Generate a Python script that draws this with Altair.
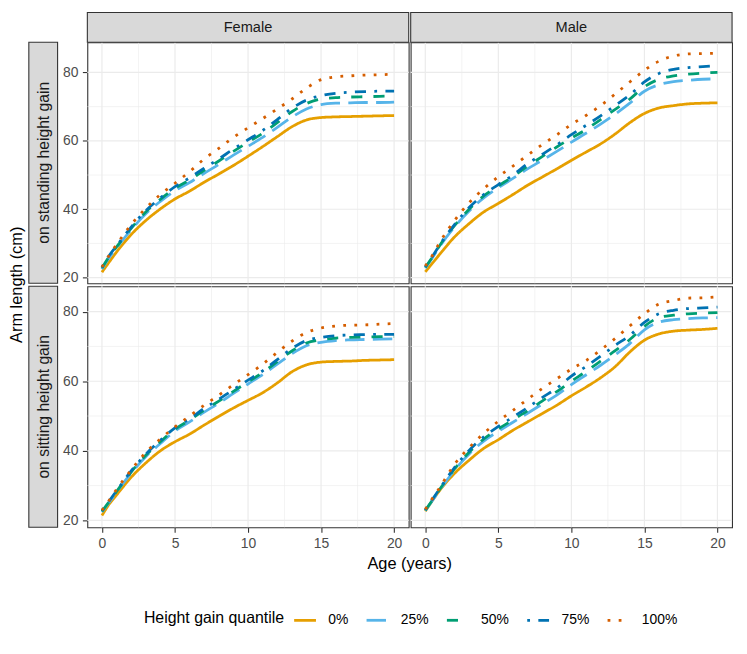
import altair as alt
import pandas as pd

# ---------------- data ----------------
ages = [0, 0.5, 1, 2, 3, 4, 5, 6, 7, 8, 9, 10, 11, 12, 13, 14, 15, 16, 17, 18, 19, 20]
quantiles = ["0%", "25%", "50%", "75%", "100%"]
sexes = ["Female", "Male"]
bases = ["on standing height gain", "on sitting height gain"]

# Female, on standing height gain
fs0 = [21.6, 24.6, 27.5, 32.6, 36.7, 40.1, 43.0, 45.3, 47.9, 50.3, 52.8, 55.5, 58.3, 61.2, 64.1, 66.1, 66.8, 67.0, 67.1, 67.2, 67.3, 67.4]
fs25 = [22.5, 25.9, 28.7, 34.0, 38.7, 42.3, 45.4, 47.8, 50.5, 53.1, 55.8, 58.4, 61.0, 63.9, 66.9, 69.3, 70.6, 71.0, 71.1, 71.2, 71.2, 71.3]
fs50 = [22.8, 26.2, 29.0, 34.4, 39.2, 42.9, 46.1, 48.6, 51.4, 54.1, 56.9, 59.6, 62.2, 65.3, 68.5, 70.9, 72.2, 72.6, 72.8, 72.9, 73.0, 73.1]
fs75 = [23.0, 26.5, 29.3, 34.8, 39.6, 43.3, 46.6, 49.2, 52.0, 54.7, 57.6, 60.3, 63.0, 66.2, 69.5, 71.9, 73.2, 73.9, 74.2, 74.4, 74.5, 74.5]
fs100 = [23.1, 26.6, 29.7, 35.5, 40.3, 44.3, 47.6, 51.0, 54.7, 57.8, 61.0, 63.8, 66.5, 69.3, 72.2, 75.4, 77.9, 78.7, 79.0, 79.2, 79.3, 79.5]

# Male, on standing height gain
ms0 = [21.7, 24.3, 26.9, 31.9, 35.8, 39.2, 41.7, 44.3, 47.0, 49.4, 51.8, 54.3, 56.7, 59.1, 62.0, 65.3, 68.0, 69.6, 70.3, 70.8, 71.0, 71.1]
ms25 = [22.8, 25.9, 29.2, 34.8, 39.5, 43.3, 46.3, 49.0, 51.8, 54.3, 56.9, 59.6, 62.2, 64.9, 67.8, 71.0, 74.5, 76.4, 77.3, 77.7, 78.0, 78.1]
ms50 = [23.0, 26.1, 29.5, 35.2, 40.0, 43.9, 46.8, 49.6, 52.6, 55.4, 58.2, 60.8, 63.3, 66.2, 69.2, 72.2, 75.8, 78.0, 79.0, 79.5, 79.8, 80.0]
ms75 = [23.2, 26.3, 29.7, 35.5, 40.5, 44.3, 47.2, 50.0, 53.3, 56.0, 58.8, 61.8, 64.5, 67.3, 70.3, 73.4, 77.2, 79.7, 80.9, 81.4, 81.7, 82.0]
ms100 = [23.4, 26.6, 30.4, 36.7, 41.9, 46.0, 49.5, 52.6, 55.8, 58.9, 61.7, 64.8, 67.4, 70.3, 73.7, 77.2, 80.6, 83.3, 84.8, 85.4, 85.5, 85.6]

# Female, on sitting height gain
fi0 = [21.4, 24.7, 27.3, 32.4, 36.5, 40.0, 42.6, 44.8, 47.4, 49.9, 52.3, 54.5, 56.7, 59.5, 62.7, 64.7, 65.5, 65.7, 65.8, 66.0, 66.1, 66.2]
fi25 = [22.4, 25.2, 28.1, 33.6, 38.3, 42.1, 45.7, 48.3, 51.1, 53.7, 56.5, 59.2, 61.9, 64.9, 67.9, 70.2, 71.2, 71.7, 71.9, 72.0, 72.1, 72.2]
fi50 = [22.6, 25.4, 28.3, 33.9, 38.7, 42.6, 46.2, 48.8, 51.7, 54.3, 57.1, 59.8, 62.5, 65.6, 68.7, 71.0, 71.9, 72.4, 72.6, 72.7, 72.8, 72.8]
fi75 = [22.8, 25.6, 28.5, 34.2, 39.0, 43.0, 46.6, 49.2, 52.2, 54.8, 57.6, 60.3, 63.0, 66.2, 69.4, 71.7, 72.6, 73.1, 73.3, 73.4, 73.5, 73.5]
fi100 = [22.9, 25.8, 28.9, 34.5, 39.5, 43.4, 46.9, 50.0, 53.1, 56.0, 59.0, 61.9, 64.9, 68.3, 71.5, 74.0, 75.3, 75.9, 76.1, 76.2, 76.4, 76.6]

# Male, on sitting height gain
mi0 = [22.6, 25.8, 28.7, 33.5, 37.3, 40.7, 43.2, 45.9, 48.3, 50.7, 53.1, 55.8, 58.3, 61.0, 64.2, 68.4, 71.8, 73.6, 74.4, 74.7, 74.9, 75.2]
mi25 = [22.8, 25.8, 28.8, 34.4, 39.1, 42.8, 45.6, 48.2, 50.8, 53.4, 56.0, 59.0, 61.8, 64.6, 67.6, 70.8, 74.8, 77.0, 77.7, 78.0, 78.2, 78.3]
mi50 = [22.9, 25.9, 29.0, 34.8, 39.6, 43.4, 46.3, 48.9, 51.5, 54.3, 57.0, 60.0, 62.8, 65.8, 68.8, 72.0, 75.8, 78.3, 79.0, 79.4, 79.6, 79.7]
mi75 = [23.0, 26.1, 29.2, 35.2, 40.1, 44.0, 47.0, 49.7, 52.4, 55.3, 58.0, 61.5, 64.2, 67.2, 70.3, 73.2, 76.9, 79.4, 80.4, 80.9, 81.1, 81.3]
mi100 = [23.2, 26.4, 29.5, 36.1, 40.9, 45.0, 48.5, 51.6, 54.8, 57.9, 60.7, 63.5, 65.9, 69.0, 72.3, 75.9, 79.4, 82.2, 83.2, 83.9, 84.0, 84.3]

x_major = [0, 5, 10, 15, 20]
x_minor = [2.5, 7.5, 12.5, 17.5]
y_major = [20, 40, 60, 80]
y_minor = [30, 50, 70]

series = {
    (bases[0], "Female"): [fs0, fs25, fs50, fs75, fs100],
    (bases[0], "Male"): [ms0, ms25, ms50, ms75, ms100],
    (bases[1], "Female"): [fi0, fi25, fi50, fi75, fi100],
    (bases[1], "Male"): [mi0, mi25, mi50, mi75, mi100],
}
rows = []
for (basis, sex), lists in series.items():
    for q, vals in zip(quantiles, lists):
        for a, v in zip(ages, vals):
            rows.append({"basis": basis, "sex": sex, "quantile": q, "age": a, "arm": v})
df = pd.DataFrame(rows)

# ---------------- styling ----------------
W, H = 324, 243
XDOM = [-1, 21]
YDOM = {bases[0]: [18.35, 88.8], bases[1]: [18.0, 87.3]}
colors = ["#E69F00", "#56B4E9", "#009E73", "#0072B2", "#D55E00"]
LW = 2.8
dashes = [[1, 0], [7 * LW, 3 * LW], [4 * LW, 4 * LW], [LW, 3 * LW, 4 * LW, 3 * LW], [LW, 3 * LW]]
GRID = "#EBEBEB"
FONT = "Liberation Sans"

legend = alt.Legend(
    orient="none", legendX=57, legendY=570, direction="horizontal",
    titleOrient="left", symbolType="stroke", symbolSize=484,
    symbolStrokeWidth=LW, labelOffset=11, columnPadding=11, titlePadding=8,
    titleFontSize=16, labelFontSize=14, titleFontWeight="normal",
    titleColor="#000000", labelColor="#000000",
)


def one_row(text):
    return pd.DataFrame({"label": [text]})


def make_axis(vals):
    return alt.Axis(values=vals, title=None, labels=True, ticks=True, domain=False, grid=False,
                    labelFontSize=14, labelColor="#4D4D4D", labelFont=FONT,
                    tickColor="#333333", tickWidth=1.1, tickSize=5, labelPadding=4.5)


def panel(r, c):
    basis, sex = bases[r], sexes[c]
    xs = alt.Scale(domain=XDOM, nice=False, zero=False)
    ys = alt.Scale(domain=YDOM[basis], nice=False, zero=False)
    xaxis = make_axis(x_major) if r == 1 else None
    yaxis = make_axis(y_major) if c == 0 else None
    d = df[(df["basis"] == basis) & (df["sex"] == sex)]

    layers = [
        alt.Chart(pd.DataFrame({"v": x_minor})).mark_rule(color=GRID, strokeWidth=0.6)
        .encode(x=alt.X("v:Q", scale=xs, axis=xaxis)),
        alt.Chart(pd.DataFrame({"v": y_minor})).mark_rule(color=GRID, strokeWidth=0.6)
        .encode(y=alt.Y("v:Q", scale=ys, axis=yaxis)),
        alt.Chart(pd.DataFrame({"v": x_major})).mark_rule(color=GRID, strokeWidth=1.2)
        .encode(x=alt.X("v:Q", scale=xs, axis=xaxis)),
        alt.Chart(pd.DataFrame({"v": y_major})).mark_rule(color=GRID, strokeWidth=1.2)
        .encode(y=alt.Y("v:Q", scale=ys, axis=yaxis)),
        alt.Chart(d).mark_line(strokeWidth=LW, interpolate="monotone").encode(
            x=alt.X("age:Q", scale=xs, axis=xaxis),
            y=alt.Y("arm:Q", scale=ys, axis=yaxis),
            color=alt.Color("quantile:N", title="Height gain quantile",
                            scale=alt.Scale(domain=quantiles, range=colors), legend=legend),
            strokeDash=alt.StrokeDash("quantile:N", title="Height gain quantile",
                                      scale=alt.Scale(domain=quantiles, range=dashes), legend=legend),
        ),
    ]
    if r == 0:
        layers.append(alt.Chart(one_row(sex)).mark_rect(fill="#D9D9D9", stroke="#333333", strokeWidth=1.1)
                      .encode(x=alt.value(0), x2=alt.value(W), y=alt.value(-30), y2=alt.value(0)))
        layers.append(alt.Chart(one_row(sex)).mark_text(fontSize=14.7, color="#1A1A1A", baseline="middle", align="center")
                      .encode(x=alt.value(W / 2), y=alt.value(-14.5), text="label:N"))
    if c == 0:
        layers.append(alt.Chart(one_row(basis)).mark_rect(fill="#D9D9D9", stroke="#333333", strokeWidth=1.1)
                      .encode(x=alt.value(-59), x2=alt.value(-30), y=alt.value(0), y2=alt.value(H)))
        layers.append(alt.Chart(one_row(basis)).mark_text(fontSize=15.8, color="#1A1A1A", baseline="middle",
                                                          align="center", angle=270)
                      .encode(x=alt.value(-44), y=alt.value(H / 2), text="label:N"))
    if r == 0 and c == 0:
        layers.append(alt.Chart(one_row("Arm length (cm)")).mark_text(fontSize=16.5, color="#000000", baseline="middle",
                                                                      align="center", angle=270)
                      .encode(x=alt.value(-71), y=alt.value(244.5), text="label:N"))
    if r == 1 and c == 0:
        layers.append(alt.Chart(one_row("Age (years)")).mark_text(fontSize=16.5, color="#000000", baseline="middle",
                                                                  align="center")
                      .encode(x=alt.value(325), y=alt.value(H + 37), text="label:N"))
    return alt.layer(*layers).properties(width=W, height=H)


chart = alt.concat(
    panel(0, 0), panel(0, 1), panel(1, 0), panel(1, 1),
    columns=2, spacing={"row": 3, "column": 2}, bounds="flush",
).properties(
    padding={"left": 0, "top": 0, "right": 5, "bottom": 5}
).configure(
    font=FONT
).configure_view(
    stroke="#333333", strokeWidth=1.1
)

chart.save("out.html", embed_options={"renderer": "svg", "actions": False})
